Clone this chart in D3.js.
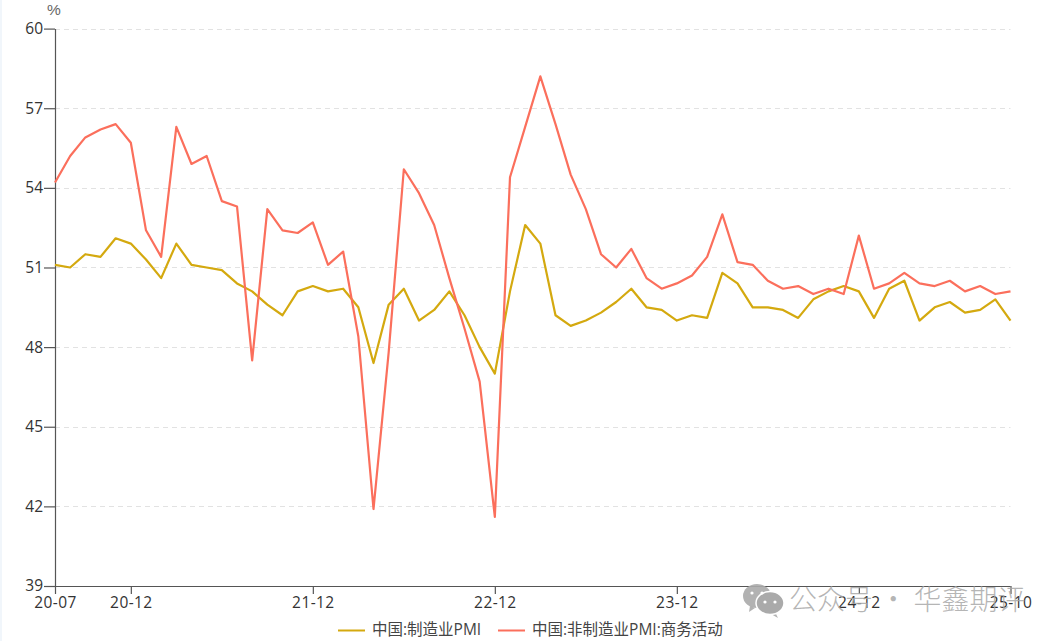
<!DOCTYPE html>
<html><head><meta charset="utf-8">
<style>html,body{margin:0;padding:0;background:#fff;overflow:hidden}svg{display:block}</style>
<script src="https://cdn.jsdelivr.net/npm/d3@7/dist/d3.min.js"></script></head>
<body><svg id="c" width="1056" height="641"></svg>
<script>
const months = [];
for (let y = 20, m = 7; y < 25 || m <= 10; m === 12 ? (y++, m = 1) : m++) months.push(y + "-" + String(m).padStart(2, "0"));
const manufacturing = [51.1,51.0,51.5,51.4,52.1,51.9,51.3,50.6,51.9,51.1,51.0,50.9,50.4,50.1,49.6,49.2,50.1,50.3,50.1,50.2,49.5,47.4,49.6,50.2,49.0,49.4,50.1,49.2,48.0,47.0,50.1,52.6,51.9,49.2,48.8,49.0,49.3,49.7,50.2,49.5,49.4,49.0,49.2,49.1,50.8,50.4,49.5,49.5,49.4,49.1,49.8,50.1,50.3,50.1,49.1,50.2,50.5,49.0,49.5,49.7,49.3,49.4,49.8,49.0];
const services = [54.2,55.2,55.9,56.2,56.4,55.7,52.4,51.4,56.3,54.9,55.2,53.5,53.3,47.5,53.2,52.4,52.3,52.7,51.1,51.6,48.4,41.9,47.8,54.7,53.8,52.6,50.6,48.7,46.7,41.6,54.4,56.3,58.2,56.4,54.5,53.2,51.5,51.0,51.7,50.6,50.2,50.4,50.7,51.4,53.0,51.2,51.1,50.5,50.2,50.3,50.0,50.2,50.0,52.2,50.2,50.4,50.8,50.4,50.3,50.5,50.1,50.3,50.0,50.1];
const yTicks = [39,42,45,48,51,54,57,60];
const xTickLabels = ["20-07","20-12","21-12","22-12","23-12","24-12","25-10"];
const seriesNames = ["中国:制造业PMI","中国:非制造业PMI:商务活动"];
const colors = ["#d4a90f","#fb6f5c"];
const font = "'Open Sans','Noto Sans CJK SC',sans-serif";

const svg = d3.select("#c");
svg.append("rect").attr("x",0).attr("y",0).attr("width",2).attr("height",641).attr("fill","#f1f6fb");
const x = d3.scalePoint().domain(months).range([55,1010.5]);
const y = d3.scaleLinear().domain([39,60]).range([586,28.6]);

// grid
svg.append("g").selectAll("line").data(yTicks.filter(d=>d>39)).join("line")
  .attr("x1",55).attr("x2",1010.5).attr("y1",d=>Math.round(y(d))+.5).attr("y2",d=>Math.round(y(d))+.5)
  .attr("stroke","#e2e2e2").attr("stroke-dasharray","5,4");

// axes
const yAxis = d3.axisLeft(y).tickValues(yTicks).tickSize(11).tickPadding(1);
const gy = svg.append("g").attr("transform","translate(55,0)").call(yAxis);
const xAxis = d3.axisBottom(x).tickValues(months.filter(m=>xTickLabels.includes(m))).tickSize(8).tickPadding(3);
const gx = svg.append("g").attr("transform","translate(0,586)").call(xAxis);
[gy,gx].forEach(g=>{
  g.selectAll("path,line").attr("stroke","#555").attr("stroke-width",1.2);
  g.selectAll("text").attr("fill","#333").style("font-family",font).style("font-size","15.5px");
});
gx.selectAll("text").style("letter-spacing","0.4px");
gx.select(".domain").attr("d","M55,0.5H1010.5");
gy.select(".domain").attr("d","M0.5,29V586");

svg.append("text").attr("x",54).attr("y",15).attr("text-anchor","middle")
  .attr("fill","#666").style("font-family","'Liberation Sans',sans-serif").style("font-size","15.5px").text("%");

// lines
const line = d3.line().x((d,i)=>x(months[i])).y(d=>y(d));
[manufacturing,services].forEach((s,i)=>{
  svg.append("path").attr("d",line(s)).attr("fill","none").attr("stroke",colors[i])
    .attr("stroke-width",2.2).attr("stroke-linejoin","round");
});

// legend
const lgX=[338,498], lgT=[372,532];
seriesNames.forEach((n,i)=>{
  svg.append("line").attr("x1",lgX[i]).attr("x2",lgX[i]+27).attr("y1",630.5).attr("y2",630.5)
    .attr("stroke",colors[i]).attr("stroke-width",2);
  svg.append("text").attr("x",lgT[i]).attr("y",635).attr("fill","#444")
    .style("font-family",font).style("font-size","15.5px").text(n);
});

// watermark
const wm = svg.append("g").attr("fill","#aaa").attr("fill-opacity",.9);
wm.append("ellipse").attr("cx",757).attr("cy",596).attr("rx",14).attr("ry",12);
wm.append("path").attr("d","M750,606 l-1,6 l6,-4z");
svg.append("ellipse").attr("cx",770).attr("cy",603).attr("rx",14).attr("ry",11.5).attr("fill","#aaa").attr("stroke","#fff").attr("stroke-width",1.5);
wm.append("path").attr("d","M775,612 l3,6 l-7,-4z");
[[752,593],[762,593],[765,602],[775,602]].forEach(p=>
  svg.append("circle").attr("cx",p[0]).attr("cy",p[1]).attr("r",1.6).attr("fill","#fff"));
svg.append("text").attr("x",789).attr("y",610).attr("fill","#a8a8a8").attr("fill-opacity",.85)
  .style("font-family","'Noto Sans CJK SC',sans-serif").style("font-size","28px").style("font-weight",300)
  .text("公众号 · 华鑫期评");
</script></body></html>
